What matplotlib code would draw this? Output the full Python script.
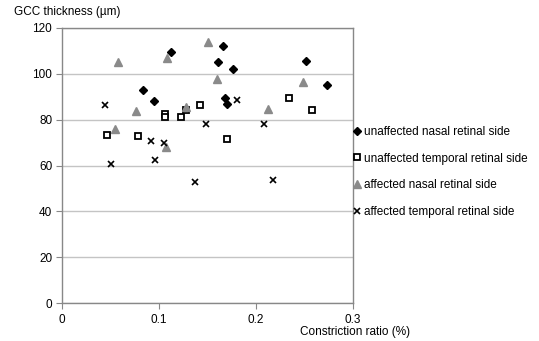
import matplotlib
matplotlib.use("Agg")
import matplotlib.pyplot as plt

plt.rcParams["font.family"] = ["Liberation Sans", "DejaVu Sans"]

# constriction ratio (%) / GCC thickness (um)
un_nasal_x = [0.084, 0.095, 0.112, 0.161, 0.166, 0.176, 0.168, 0.170, 0.252, 0.273]
un_nasal_y = [93, 88, 109.5, 105, 112, 102, 89.5, 87, 105.5, 95]

un_temp_x = [0.046, 0.078, 0.106, 0.106, 0.123, 0.128, 0.142, 0.170, 0.234, 0.258]
un_temp_y = [73.5, 73, 82.5, 81, 81.3, 84.2, 86.5, 71.4, 89.6, 84.2]

af_nasal_x = [0.058, 0.108, 0.151, 0.160, 0.076, 0.128, 0.055, 0.107, 0.248, 0.212]
af_nasal_y = [105.3, 107, 114, 97.6, 83.7, 85.6, 76, 68.2, 96.6, 84.6]

af_temp_x = [0.044, 0.180, 0.148, 0.092, 0.105, 0.208, 0.137, 0.218, 0.050, 0.096]
af_temp_y = [86.4, 88.4, 77.9, 70.7, 69.9, 77.9, 52.8, 53.7, 60.7, 62.4]

labels = [
    "unaffected nasal retinal side",
    "unaffected temporal retinal side",
    "affected nasal retinal side",
    "affected temporal retinal side",
]

SPINE = "#888888"
GRID = "#c4c4c4"

fig = plt.figure(figsize=(5.39, 3.41), dpi=100)
ax = fig.add_axes([62 / 539, 1 - 303 / 341, (353 - 62) / 539, (303 - 28) / 341])

ax.plot(un_nasal_x, un_nasal_y, ls="none", marker="D", ms=3.8,
        color="black", label=labels[0], zorder=3)
ax.plot(un_temp_x, un_temp_y, ls="none", marker="s", ms=4.6, mfc="white",
        mec="black", mew=1.3, label=labels[1], zorder=3)
ax.plot(af_nasal_x, af_nasal_y, ls="none", marker="^", ms=5.2,
        color="#8a8a8a", label=labels[2], zorder=3)
ax.plot(af_temp_x, af_temp_y, ls="none", marker="x", ms=5, mew=1.2,
        color="black", label=labels[3], zorder=3)

ax.set_xlim(0, 0.3)
ax.set_ylim(0, 120)
ax.set_xticks([0, 0.1, 0.2, 0.3])
ax.set_xticklabels(["0", "0.1", "0.2", "0.3"])
ax.set_yticks(range(0, 121, 20))
ax.yaxis.grid(True, color=GRID, lw=1)
ax.set_axisbelow(True)
for s in ax.spines.values():
    s.set_color(SPINE)
    s.set_linewidth(1)
ax.tick_params(direction="out", length=4, color=SPINE, labelsize=8.5, pad=3)
ax.tick_params(axis="x", pad=4)

fig.text(14 / 539, 1 - 12 / 341, "GCC thickness (µm)", fontsize=8.5,
         ha="left", va="center")
fig.text(355 / 539, 1 - 332 / 341, "Constriction ratio (%)", fontsize=8.5,
         ha="center", va="center")

fig.legend(loc="center left", bbox_to_anchor=(353 / 539, 1 - 172 / 341),
           frameon=False, fontsize=8.5, handlelength=0.6, handletextpad=0.3,
           labelspacing=1.25, borderpad=0, borderaxespad=0, numpoints=1)

fig.savefig("out.png", dpi=100)
